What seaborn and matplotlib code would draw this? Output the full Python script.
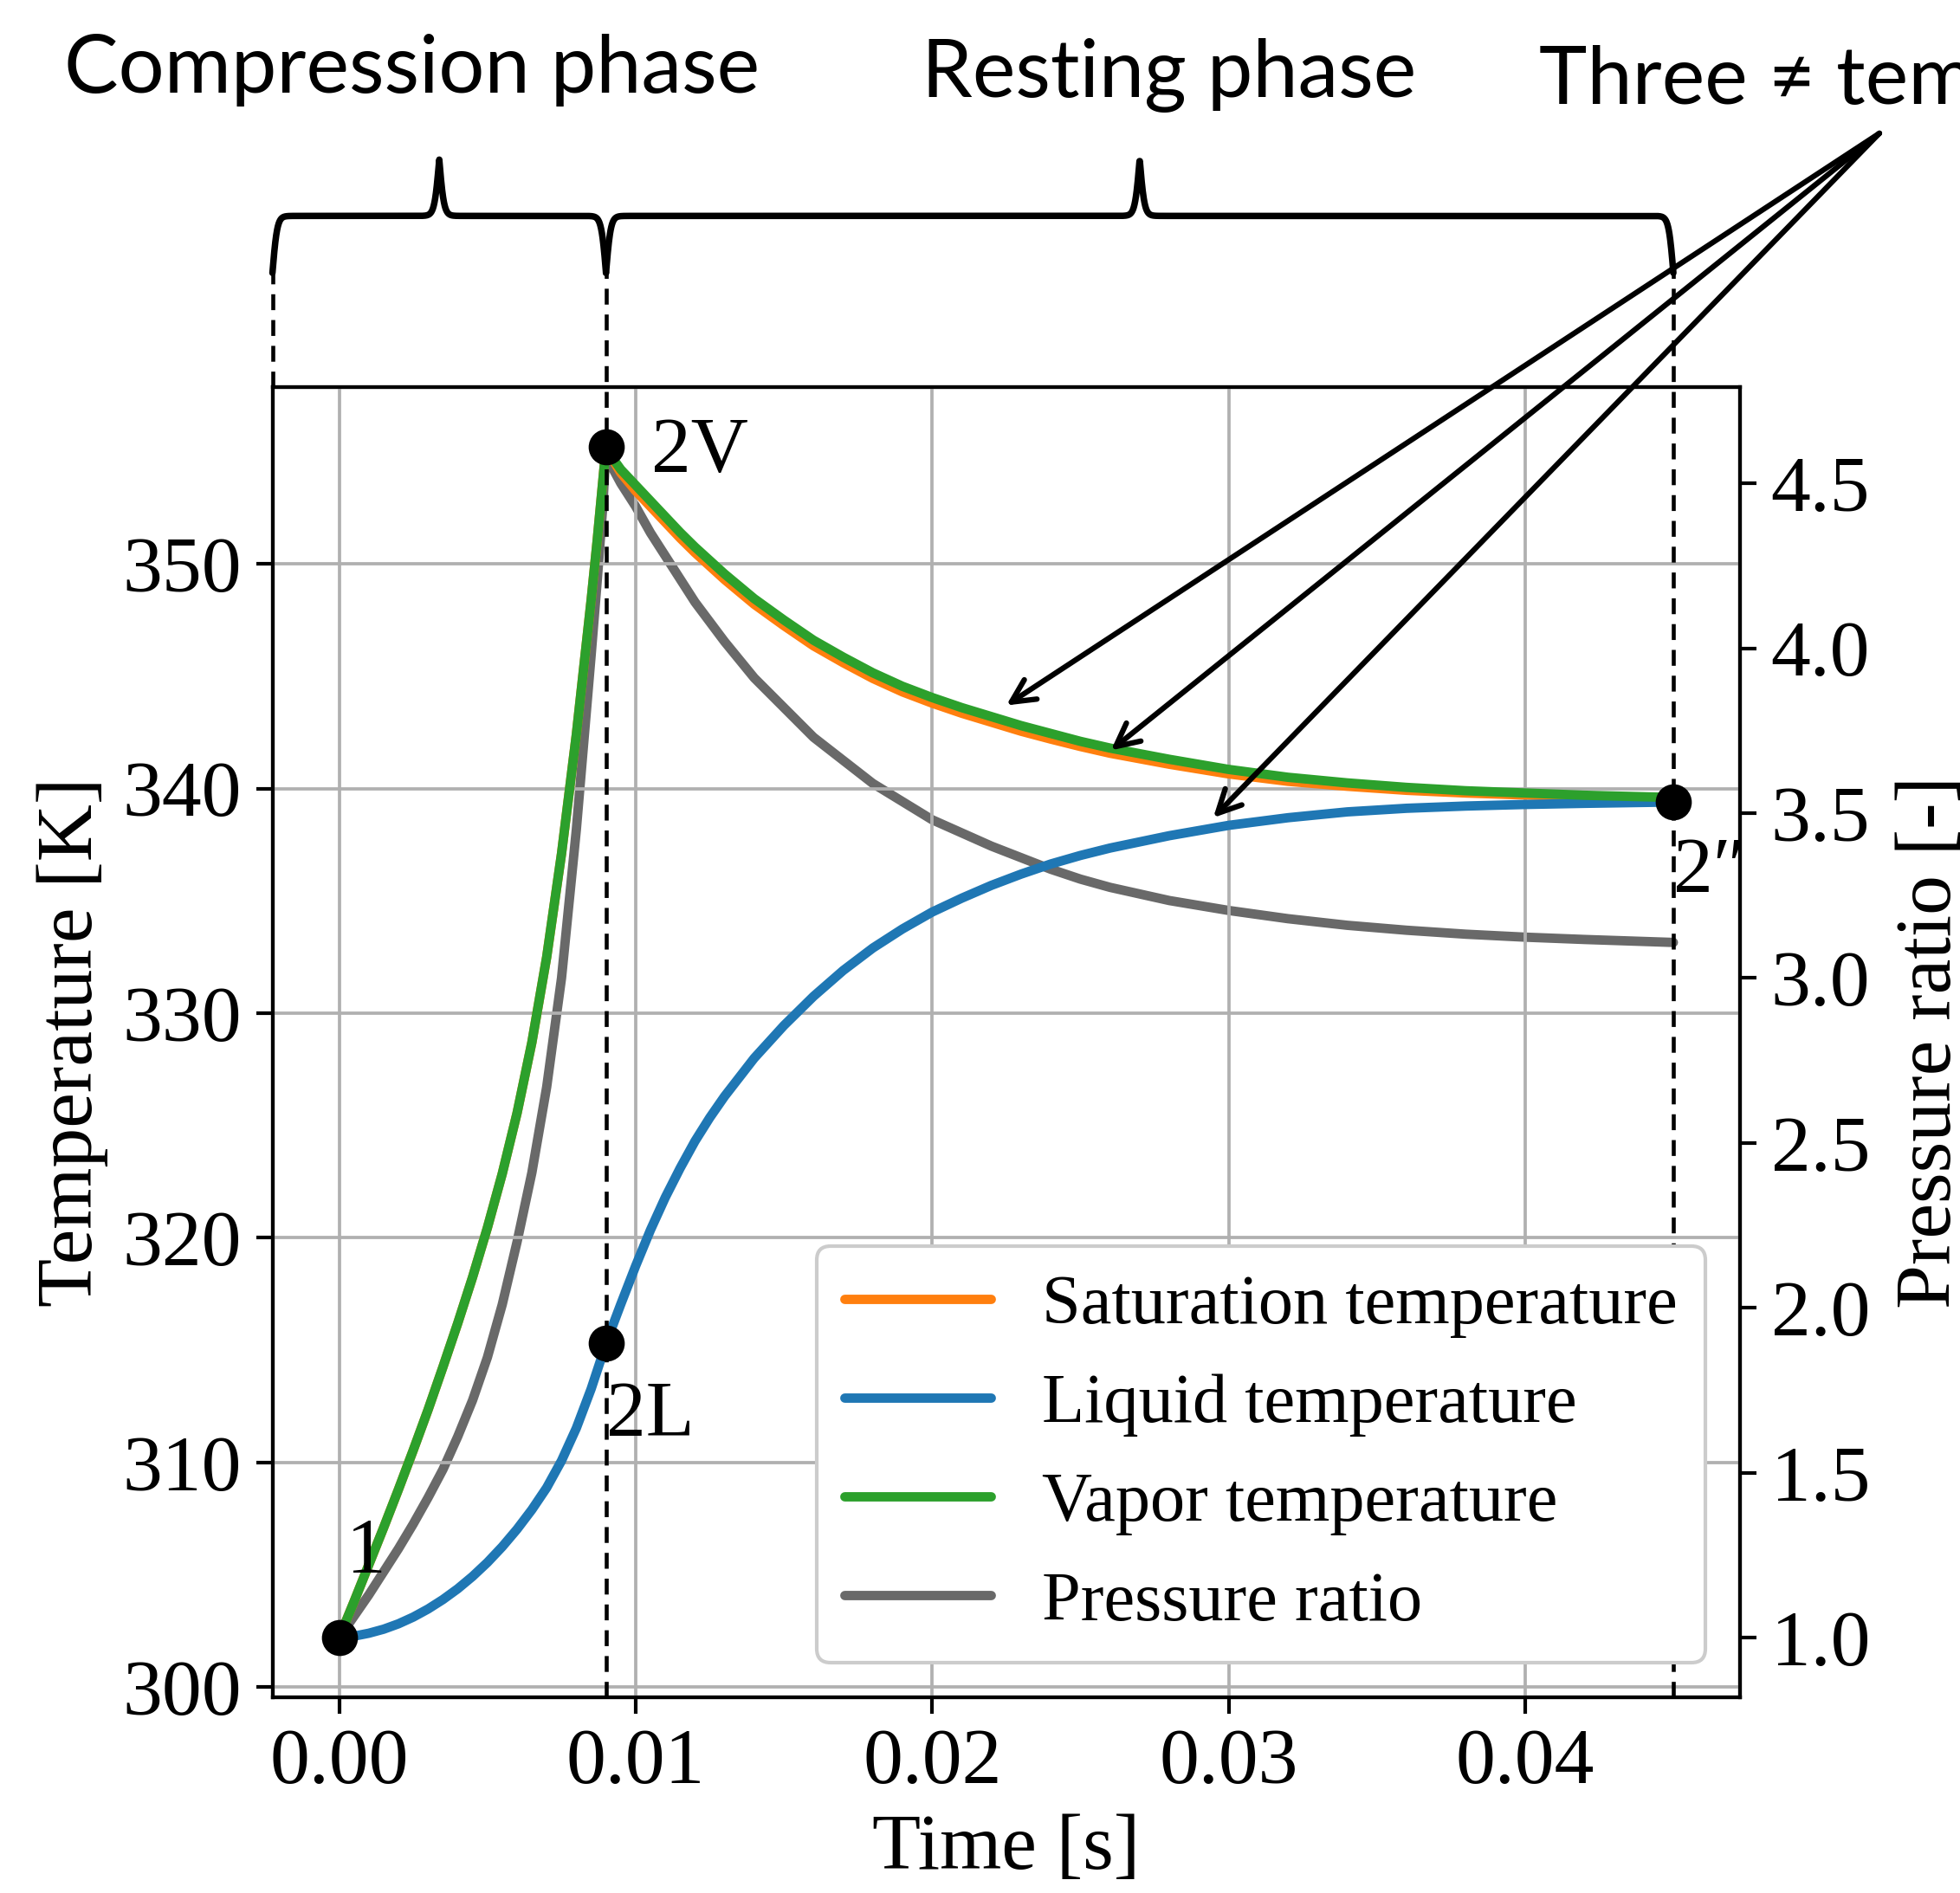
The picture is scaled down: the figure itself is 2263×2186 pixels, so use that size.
import numpy as np
import matplotlib
matplotlib.use("Agg")
import matplotlib.pyplot as plt
import matplotlib.transforms as mtrans
import seaborn as sns

W, H, DPI = 2263, 2186, 300

# time grid [s]: compression phase, then resting phase
t = [0.0, 0.0005, 0.001, 0.0015, 0.002, 0.0025, 0.003, 0.0035, 0.004, 0.0045,
     0.005, 0.0055, 0.006, 0.0065, 0.007, 0.0075, 0.008, 0.0085, 0.0087, 0.0089,
     0.009,
     0.0092, 0.0095, 0.010, 0.0105, 0.011, 0.0115, 0.012, 0.0125, 0.013, 0.014,
     0.015, 0.016, 0.017, 0.018, 0.019, 0.020, 0.021, 0.022, 0.023, 0.024,
     0.025, 0.026, 0.028, 0.030, 0.032, 0.034, 0.036, 0.038, 0.040, 0.042,
     0.045]

# temperatures [K]
T_vap = [302.2, 303.8, 305.45, 307.1, 308.8, 310.55, 312.35, 314.25, 316.2, 318.25,
         320.45, 322.85, 325.55, 328.7, 332.5, 337.1, 342.4, 348.4, 351.0, 353.8,
         355.2,
         354.75, 354.2, 353.5, 352.8, 352.1, 351.4, 350.75, 350.15, 349.55, 348.45,
         347.5, 346.6, 345.85, 345.15, 344.55, 344.05, 343.6, 343.2, 342.8, 342.45,
         342.1, 341.8, 341.3, 340.85, 340.5, 340.25, 340.05, 339.9, 339.8, 339.7,
         339.6]
T_sat = [302.2, 303.8, 305.45, 307.1, 308.8, 310.55, 312.35, 314.25, 316.2, 318.25,
         320.45, 322.85, 325.55, 328.7, 332.5, 337.1, 342.4, 348.4, 351.0, 353.8,
         355.2,
         354.7, 354.05, 353.25, 352.55, 351.85, 351.15, 350.5, 349.9, 349.3, 348.2,
         347.25, 346.35, 345.6, 344.9, 344.3, 343.8, 343.35, 342.95, 342.55, 342.2,
         341.87, 341.57, 341.08, 340.65, 340.32, 340.1, 339.92, 339.8, 339.71, 339.63,
         339.55]
T_liq = [302.2, 302.27, 302.4, 302.58, 302.82, 303.12, 303.48, 303.9, 304.38, 304.93,
         305.55, 306.25, 307.03, 307.9, 308.88, 310.08, 311.53, 313.28, 314.08, 314.88,
         315.3,
         316.0, 317.05, 318.75, 320.35, 321.8, 323.1, 324.3, 325.35, 326.3, 328.0,
         329.45, 330.75, 331.9, 332.9, 333.75, 334.5, 335.12, 335.69, 336.19, 336.64,
         337.02, 337.35, 337.9, 338.36, 338.7, 338.96, 339.12, 339.22, 339.29, 339.34,
         339.4]
# pressure ratio [-]
p_ratio = [1.00, 1.065, 1.13, 1.20, 1.27, 1.345, 1.425, 1.51, 1.61, 1.72,
           1.85, 2.01, 2.20, 2.41, 2.67, 3.00, 3.45, 3.98, 4.20, 4.44,
           4.61,
           4.55, 4.50, 4.43, 4.35, 4.28, 4.21, 4.14, 4.08, 4.02, 3.91,
           3.82, 3.73, 3.66, 3.59, 3.535, 3.48, 3.44, 3.40, 3.365, 3.33,
           3.30, 3.275, 3.235, 3.205, 3.18, 3.16, 3.145, 3.133, 3.124, 3.117,
           3.108]

# state points
state_t = [0.0, 0.009, 0.009, 0.045]
state_T = [302.2, 355.2, 315.3, 339.4]
state_lbl = ["1", "2V", "2L", "2\u2033"]

# arrow targets of the "three temperatures" note
arrow_t = [0.02250, 0.02603, 0.02948]
arrow_T = [343.7, 341.7, 338.7]

t_comp_end = 0.009
t_rest_end = 0.045

sns.set_theme(style="ticks", rc={
    "axes.edgecolor": "black", "axes.labelcolor": "black", "text.color": "black",
    "xtick.color": "black", "ytick.color": "black", "axes.linewidth": 1.0,
    "grid.color": "#b0b0b0", "grid.linewidth": 0.9,
})
plt.rcParams["font.family"] = ["Liberation Serif", "DejaVu Serif"]
plt.rcParams["mathtext.fontset"] = "stix"
SANS = ["Lato", "DejaVu Sans"]
FS = 22

fig = plt.figure(figsize=(W / DPI, H / DPI), dpi=DPI)
ax = fig.add_axes([0.139, 0.1034, 0.7488, 0.6919])
ax2 = ax.twinx()
ax.set_zorder(ax2.get_zorder() + 1)
ax.patch.set_visible(False)

lw = 2.6
sns.lineplot(x=t, y=T_sat, ax=ax, color="#ff7f0e", lw=lw, label="Saturation temperature")
sns.lineplot(x=t, y=T_liq, ax=ax, color="#1f77b4", lw=lw, label="Liquid temperature")
sns.lineplot(x=t, y=T_vap, ax=ax, color="#2ca02c", lw=lw, label="Vapor temperature")
sns.lineplot(x=t, y=p_ratio, ax=ax2, color="#696969", lw=lw, label="Pressure ratio")
sns.scatterplot(x=state_t, y=state_T, ax=ax, color="black", s=100, linewidth=0,
                zorder=6, legend=False)

ax.grid(True)
ax.set_xlabel("Time [s]", fontsize=FS)
ax.set_ylabel("Temperature [K]", fontsize=FS)
ax2.set_ylabel("Pressure ratio [-]", fontsize=FS, labelpad=7)
for a in (ax, ax2):
    a.tick_params(labelsize=FS, length=4.5, width=1.0, pad=4)
xl = ax.get_xlim()
ax.set_xlim(xl)

# labels for state points
offs = [(2, 18), (12.5, -7), (0, -25.5), (0, -25)]
for x, y, s, o in zip(state_t, state_T, state_lbl, offs):
    ax.annotate(s, (x, y), xytext=o, textcoords="offset points",
                ha="left", va="baseline", fontsize=FS, zorder=7,
                annotation_clip=False)

# legend on the top axes
h1, l1 = ax.get_legend_handles_labels()
h2, l2 = ax2.get_legend_handles_labels()
if ax2.get_legend() is not None:
    ax2.get_legend().remove()
leg = ax.legend(h1 + h2, l1 + l2, loc="lower right", fontsize=19.3,
                framealpha=1, handlelength=2.1, handletextpad=0.73,
                labelspacing=0.51)
leg.set_zorder(10)

# dashed separators and braces above the axes
tr = mtrans.blended_transform_factory(ax.transData, ax.transAxes)
y_b = 1.0875
dash = dict(transform=tr, clip_on=False, color="black", lw=1.1,
            ls=(0, (4, 2.5)), scalex=False, scaley=False, zorder=4)
ax.plot([xl[0], xl[0]], [1.0, y_b], **dash)
ax.plot([t_comp_end, t_comp_end], [0.0, y_b], **dash)
ax.plot([t_rest_end, t_rest_end], [0.0, y_b], **dash)


def brace(x0, x1, y0, amp=0.087, k=0.00008):
    xs = np.linspace(x0, x1, 3000)
    xm = (x0 + x1) / 2
    d = np.where(xs <= xm, xs - x0, x1 - xs)
    dm = (x1 - x0) / 2
    s = 1 / (1 + np.exp(-d / k)) + 1 / (1 + np.exp(-(d - dm) / k))
    ax.plot(xs, y0 + (s - 0.5) * amp, transform=tr, clip_on=False,
            color="black", lw=1.8, scalex=False, scaley=False)


brace(xl[0], t_comp_end, y_b)
brace(t_comp_end, t_rest_end, y_b)

fig.text(0.0327, 0.951, "Compression phase", fontsize=22.5, family=SANS, va="baseline")
fig.text(0.4702, 0.9488, "Resting phase", fontsize=22.5, family=SANS, va="baseline")
fig.text(0.7852, 0.9451, "Three \u2260 temperatures", fontsize=22.5, family=SANS,
         va="baseline")

for at, aT in zip(arrow_t, arrow_T):
    ax.annotate("", xy=(at, aT), xycoords="data", xytext=(0.9589, 0.9296),
                textcoords="figure fraction", annotation_clip=False,
                arrowprops=dict(arrowstyle="->", color="black", lw=1.5,
                                shrinkA=0, shrinkB=0, mutation_scale=16))

fig.savefig("out.png", dpi=DPI)
